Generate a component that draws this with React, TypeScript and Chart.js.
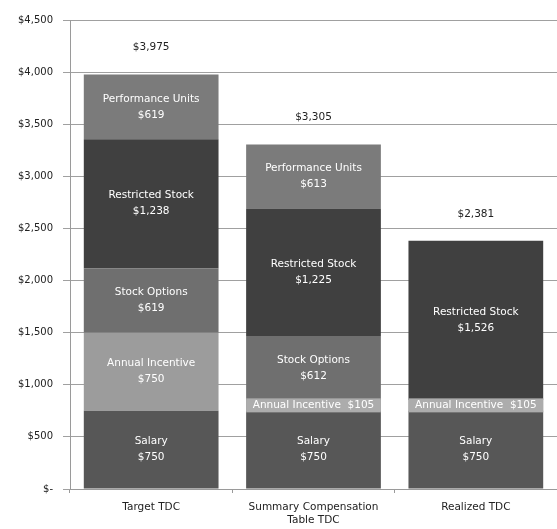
import React, { useEffect, useRef } from "react";
import { Chart, registerables } from "chart.js";

Chart.register(...registerables);

const categories: (string | string[])[] = ["Target TDC", ["Summary Compensation", "Table TDC"], "Realized TDC"];
const salary = [750, 750, 750];
const annualIncentive = [750, 105, 105];
const stockOptions = [619, 612, 0];
const restrictedStock = [1238, 1225, 1526];
const performanceUnits = [619, 613, 0];
const totals = ["$3,975", "$3,305", "$2,381"];
const yTicks = [0, 500, 1000, 1500, 2000, 2500, 3000, 3500, 4000, 4500];

const FONT = "'DejaVu Sans', Verdana, sans-serif";

const fmt = (v: number) => (v === 0 ? "$-" : "$" + v.toLocaleString("en-US"));

const labelPlugin = {
  id: "segLabels",
  afterDatasetsDraw(chart: any) {
    const ctx = chart.ctx;
    ctx.save();
    ctx.textAlign = "center";
    ctx.textBaseline = "middle";
    const tops: number[] = [];
    chart.data.datasets.forEach((ds: any, di: number) => {
      const meta = chart.getDatasetMeta(di);
      meta.data.forEach((el: any, i: number) => {
        const v = ds.data[i];
        if (!v) return;
        const top = el.y;
        const bottom = el.base;
        tops[i] = tops[i] === undefined ? top : Math.min(tops[i], top);
        const cy = (top + bottom) / 2;
        const name = ds.label;
        if (v < 200) {
          const w = el.width;
          ctx.fillStyle = "#acacac";
          ctx.fillRect(el.x - w / 2, cy - 7, w, 14);
          ctx.fillStyle = "#ffffff";
          ctx.font = `10.5px ${FONT}`;
          ctx.fillText(`${name}  $${v}`, el.x, cy);
        } else {
          ctx.fillStyle = "#ffffff";
          ctx.font = `10.5px ${FONT}`;
          ctx.fillText(name, el.x, cy - 8);
          ctx.fillText("$" + v.toLocaleString("en-US"), el.x, cy + 8);
        }
      });
    });
    ctx.fillStyle = "#222222";
    ctx.font = `10.5px ${FONT}`;
    const meta0 = chart.getDatasetMeta(0);
    tops.forEach((t, i) => {
      ctx.fillText(totals[i], meta0.data[i].x, t - 27);
    });
    ctx.restore();
  },
};

export default function App() {
  const ref = useRef<HTMLCanvasElement>(null);
  useEffect(() => {
    document.body.style.margin = "0";
    const chart = new Chart(ref.current!, {
      type: "bar",
      data: {
        labels: categories,
        datasets: [
          { label: "Salary", data: salary, backgroundColor: "#575757" },
          { label: "Annual Incentive", data: annualIncentive, backgroundColor: "#9c9c9c" },
          { label: "Stock Options", data: stockOptions, backgroundColor: "#6f6f6f" },
          { label: "Restricted Stock", data: restrictedStock, backgroundColor: "#404040" },
          { label: "Performance Units", data: performanceUnits, backgroundColor: "#7b7b7b" },
        ],
      },
      options: {
        animation: false,
        responsive: false,
        layout: { padding: { top: 20, right: 0, left: 0, bottom: 0 } },
        datasets: { bar: { categoryPercentage: 0.83, barPercentage: 1, borderWidth: 0 } },
        plugins: { legend: { display: false }, tooltip: { enabled: false } },
        scales: {
          x: {
            stacked: true,
            grid: { drawOnChartArea: false, drawTicks: true, tickLength: 4, color: "#9a9a9a" },
            border: { color: "#9a9a9a" },
            ticks: { color: "#222222", font: { family: FONT, size: 10.5 }, padding: 8, maxRotation: 0 },
            afterFit: (s: any) => {
              s.height = 40;
            },
          },
          y: {
            stacked: true,
            min: 0,
            max: 4500,
            afterBuildTicks: (s: any) => {
              s.ticks = yTicks.map((v) => ({ value: v }));
            },
            grid: { color: "#a0a0a0", tickLength: 7 },
            border: { color: "#9a9a9a" },
            ticks: {
              color: "#222222",
              font: { family: FONT, size: 10 },
              padding: 10,
              callback: (v: any) => fmt(Number(v)),
            },
            afterFit: (s: any) => {
              s.width = 70;
            },
          },
        },
      },
      plugins: [labelPlugin],
    });
    return () => chart.destroy();
  }, []);
  return <canvas ref={ref} width={557} height={529} style={{ display: "block" }} />;
}
